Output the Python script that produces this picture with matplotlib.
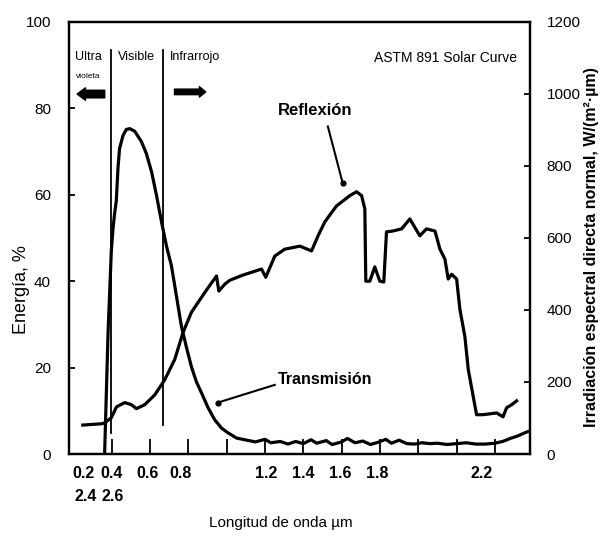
import matplotlib
matplotlib.use("Agg")
import matplotlib.pyplot as plt
from matplotlib.transforms import blended_transform_factory

plt.rcParams['font.family'] = ['Liberation Sans', 'DejaVu Sans']

# Reflection of the glazing (%), wavelength in micrometres
refl_wl = [0.249, 0.348, 0.363, 0.398, 0.425, 0.468, 0.503, 0.529, 0.572, 0.625,
           0.677, 0.729, 0.772, 0.816, 0.886, 0.947, 0.959, 0.990, 1.016, 1.084,
           1.182, 1.204, 1.251, 1.303, 1.382, 1.443, 1.477, 1.512, 1.573, 1.643,
           1.678, 1.704, 1.721, 1.726, 1.747, 1.773, 1.799, 1.820, 1.834, 1.867,
           1.913, 1.956, 2.008, 2.043, 2.087, 2.113, 2.139, 2.156, 2.174, 2.200,
           2.217, 2.243, 2.261, 2.304, 2.337, 2.409, 2.442, 2.461, 2.487, 2.513]
refl_pct = [6.7, 7.0, 7.2, 8.4, 10.9, 11.9, 11.4, 10.5, 11.4, 13.7,
            17.2, 21.9, 28.1, 32.8, 37.4, 41.2, 37.7, 39.3, 40.2, 41.4,
            42.8, 40.9, 45.8, 47.4, 48.1, 47.0, 50.5, 53.7, 57.4, 59.8,
            60.7, 59.8, 56.7, 40.0, 40.0, 43.3, 40.0, 39.8, 51.4, 51.6,
            52.1, 54.4, 50.5, 52.1, 51.6, 47.4, 45.1, 40.5, 41.6, 40.5,
            33.5, 27.2, 19.5, 9.1, 9.1, 9.5, 8.6, 10.7, 11.4, 12.3]

# Transmission of the glazing (%)
trans_wl = [0.363, 0.381, 0.398, 0.407, 0.415, 0.424, 0.433, 0.441, 0.459, 0.476,
            0.494, 0.520, 0.555, 0.581, 0.608, 0.634, 0.660, 0.686, 0.712, 0.738,
            0.764, 0.790, 0.816, 0.842, 0.868, 0.903, 0.938, 0.973, 1.007, 1.051,
            1.094, 1.15, 1.20, 1.23, 1.28, 1.32, 1.36, 1.40, 1.44, 1.47,
            1.52, 1.55, 1.60, 1.63, 1.67, 1.71, 1.75, 1.79, 1.83, 1.86,
            1.90, 1.94, 1.98, 2.02, 2.06, 2.10, 2.15, 2.20, 2.25, 2.30,
            2.35, 2.40, 2.44, 2.48, 2.52, 2.56, 2.58]
trans_pct = [0.0, 28.1, 47.0, 52.3, 55.6, 58.6, 66.3, 70.7, 73.7, 75.1,
             75.3, 74.7, 72.3, 69.5, 65.3, 59.8, 53.7, 48.1, 43.5, 36.5,
             29.5, 24.7, 20.2, 16.7, 14.2, 10.7, 7.9, 6.0, 4.9, 3.7,
             3.3, 2.8, 3.4, 2.6, 2.9, 2.3, 2.9, 2.4, 3.3, 2.5,
             3.1, 2.2, 2.8, 3.6, 2.6, 3.0, 2.2, 2.7, 3.4, 2.5,
             3.2, 2.4, 2.3, 2.6, 2.4, 2.5, 2.2, 2.4, 2.6, 2.3,
             2.3, 2.5, 2.9, 3.6, 4.2, 5.0, 5.3]

# Spectral band boundaries (µm) and their vertical extent (%)
band_edges = [0.395, 0.666]
band_spans = [(4.9, 93.5), (6.7, 93.5)]

x_ticks = [0.4, 0.6, 0.8, 1.0, 1.2, 1.4, 1.6, 1.8, 2.0, 2.2, 2.4]
x_labels_row1 = ["0.2", "0.4", "0.6", "0.8", "1.2", "1.4", "1.6", "1.8", "2.2"]
x_labels_row1_pos = [0.254, 0.400, 0.588, 0.760, 1.204, 1.397, 1.591, 1.784, 2.332]
x_labels_row2 = ["2.4", "2.6"]
x_labels_row2_pos = [0.264, 0.405]

left_ticks = [0, 20, 40, 60, 80, 100]
right_ticks = [0, 200, 400, 600, 800, 1000, 1200]

fig = plt.figure(figsize=(6.04, 5.47), dpi=100)
ax = fig.add_axes([0.1142, 0.170, 0.7633, 0.790])
ax.set_xlim(0.177, 2.583)
ax.set_ylim(0, 100)

ax.plot(refl_wl, refl_pct, color='black', lw=2.3, solid_joinstyle='round')
ax.plot(trans_wl, trans_pct, color='black', lw=2.3, solid_joinstyle='round')

for xe, (y0, y1) in zip(band_edges, band_spans):
    ax.plot([xe, xe], [y0, y1], color='black', lw=1.3)

for sp in ax.spines.values():
    sp.set_linewidth(1.6)

ax.set_xticks(x_ticks)
ax.set_xticklabels([])
ax.tick_params(axis='x', direction='in', length=11, width=1.3)
ax.set_yticks(left_ticks)
ax.set_yticklabels([str(v) for v in left_ticks], fontsize=11)
ax.tick_params(axis='y', direction='in', length=4, width=1.3, pad=13)

ax2 = ax.twinx()
ax2.set_ylim(0, 1200)
ax2.set_yticks(right_ticks)
ax2.set_yticklabels([str(v) for v in right_ticks], fontsize=11)
ax2.tick_params(axis='y', direction='in', length=4, width=1.3, pad=12)
for sp in ax2.spines.values():
    sp.set_linewidth(1.6)

trans = blended_transform_factory(ax.transData, ax.transAxes)
for lab, xp in zip(x_labels_row1, x_labels_row1_pos):
    ax.text(xp, -0.045, lab, transform=trans, ha='center', va='center',
            fontsize=11.5, fontweight='bold')
for lab, xp in zip(x_labels_row2, x_labels_row2_pos):
    ax.text(xp, -0.098, lab, transform=trans, ha='center', va='center',
            fontsize=11.5, fontweight='bold')

ax.text(1.28, -0.16, "Longitud de onda µm", transform=trans,
        ha='center', va='center', fontsize=11)

ax.set_ylabel("Energía, %", fontsize=13)
ax.yaxis.set_label_coords(-0.085, 0.38)
ax2.set_ylabel("Irradiación espectral directa normal, W/(m²·µm)", fontsize=11.5,
               fontweight='bold')
ax2.yaxis.set_label_coords(1.118, 0.48)

# Band names and direction arrows
ax.text(0.207, 91.9, "Ultra", fontsize=9, va='center', ha='left')
ax.text(0.212, 87.4, "violeta", fontsize=6, va='center', ha='left')
ax.text(0.431, 91.9, "Visible", fontsize=9, va='center', ha='left')
ax.text(0.703, 91.9, "Infrarrojo", fontsize=9, va='center', ha='left')
ax.annotate('', xy=(0.205, 83.3), xytext=(0.378, 83.3),
            arrowprops=dict(arrowstyle='simple,head_width=0.9,head_length=0.6,tail_width=0.55',
                            color='black'))
ax.annotate('', xy=(0.905, 83.8), xytext=(0.713, 83.8),
            arrowprops=dict(arrowstyle='simple,head_width=0.75,head_length=0.45,tail_width=0.4',
                            color='black'))

ax.text(2.515, 91.6, "ASTM 891 Solar Curve", fontsize=10, va='center', ha='right')

# Curve labels with leader lines
ax.text(1.267, 79.5, "Reflexión", fontsize=12, fontweight='bold', va='center', ha='left')
ax.plot([1.528, 1.606], [75.8, 62.6], color='black', lw=1.5)
ax.plot([1.606], [62.6], 'o', color='black', ms=3.5)

ax.text(1.267, 17.2, "Transmisión", fontsize=11.5, fontweight='bold', va='center', ha='left')
ax.plot([1.251, 0.954], [16.0, 11.9], color='black', lw=1.5)
ax.plot([0.954], [11.9], 'o', color='black', ms=3.5)

fig.savefig("out.png", dpi=100)
